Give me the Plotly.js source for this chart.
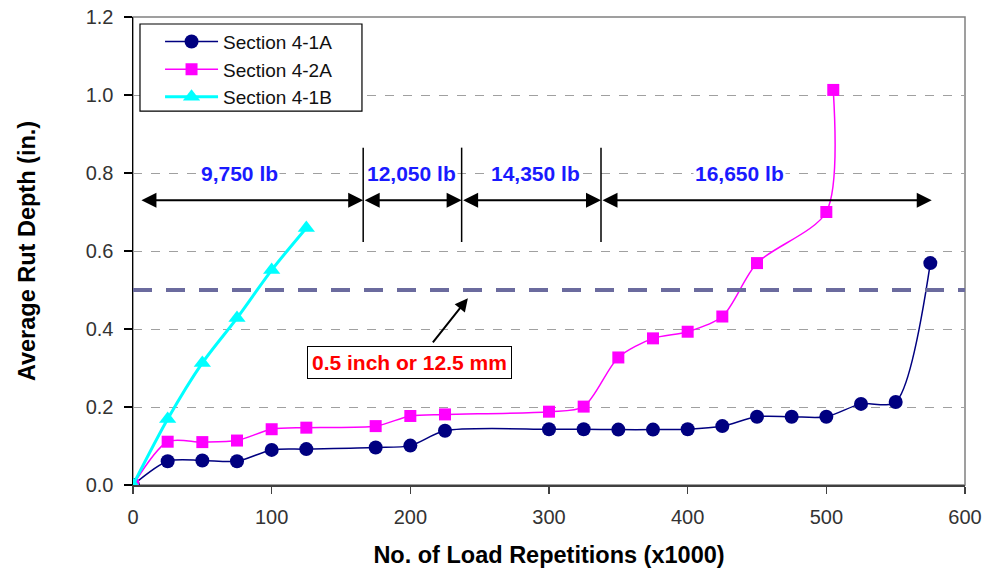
<!DOCTYPE html>
<html>
<head>
<meta charset="utf-8">
<script src="https://cdn.plot.ly/plotly-3.0.1.min.js"></script>
<style>
  html, body { margin: 0; padding: 0; background: #fff; }
  #chart { width: 988px; height: 571px; }
</style>
</head>
<body>
<div id="chart"></div>
<script>
// Load repetitions (x1000) and average rut depth (in.) for each test section
const reps41A = [0, 25, 50, 75, 100, 125, 175, 200, 225, 300, 325, 350, 375, 400, 425, 450, 475, 500, 525, 550, 575];
const rut41A  = [0, 0.061, 0.063, 0.061, 0.090, 0.092, 0.096, 0.101, 0.139, 0.143, 0.143, 0.142, 0.142, 0.143, 0.151, 0.175, 0.175, 0.175, 0.208, 0.213, 0.569];

const reps42A = [0, 25, 50, 75, 100, 125, 175, 200, 225, 300, 325, 350, 375, 400, 425, 450, 500, 505];
const rut42A  = [0, 0.111, 0.110, 0.114, 0.143, 0.147, 0.151, 0.177, 0.181, 0.188, 0.201, 0.327, 0.376, 0.393, 0.432, 0.569, 0.700, 1.013];

const reps41B = [0, 25, 50, 75, 100, 125];
const rut41B  = [0, 0.169, 0.313, 0.428, 0.551, 0.659];

const seriesNames = ['Section 4-1A', 'Section 4-2A', 'Section 4-1B'];

// Wheel-load stages: boundaries along the repetition axis and their labels
const stageBounds = [5, 166, 237, 337.5, 576];
const stageLabels = ['9,750 lb', '12,050 lb', '14,350 lb', '16,650 lb'];
const stageLabelX = [77, 201, 290, 437.5];
const stageArrowY = 0.73;
const stageLabelY = 0.8;

// Failure criterion
const rutLimit = 0.5;
const rutLimitText = '0.5 inch or 12.5 mm';

const xTicks = [0, 100, 200, 300, 400, 500, 600];
const yTicks = [0, 0.2, 0.4, 0.6, 0.8, 1.0, 1.2];

const FONT = 'Arial, "Liberation Sans", sans-serif';

const traces = [
  {
    x: reps41A, y: rut41A, name: seriesNames[0], type: 'scatter', mode: 'lines+markers',
    line: { color: '#000080', width: 1.5, shape: 'spline', smoothing: 0.8 },
    marker: { symbol: 'circle', size: 14, color: '#000080' }
  },
  {
    x: reps42A, y: rut42A, name: seriesNames[1], type: 'scatter', mode: 'lines+markers',
    line: { color: '#FF00FF', width: 1.5, shape: 'spline', smoothing: 0.8 },
    marker: { symbol: 'square', size: 12, color: '#FF00FF' }
  },
  {
    x: reps41B, y: rut41B, name: seriesNames[2], type: 'scatter', mode: 'lines+markers',
    line: { color: '#00FFFF', width: 3, shape: 'spline', smoothing: 0.8 },
    marker: { symbol: 'triangle-up', size: 15, color: '#00FFFF' }
  }
];

const shapes = [];
const annotations = [];

// frame around the plotting area
shapes.push({ type: 'rect', xref: 'paper', yref: 'paper', x0: 0, x1: 1, y0: 0, y1: 1,
  line: { color: '#808080', width: 1.5 }, layer: 'below' });

// legend panel (the legend itself is drawn borderless on top of it)
shapes.push({ type: 'rect', xref: 'paper', yref: 'paper', x0: 0.0084, x1: 0.2752, y0: 0.799, y1: 0.985,
  line: { color: '#000', width: 1.2 }, fillcolor: '#fff', layer: 'above' });

// rut-depth limit
shapes.push({ type: 'line', xref: 'x', yref: 'y', x0: xTicks[0], x1: xTicks[xTicks.length - 1],
  y0: rutLimit, y1: rutLimit, line: { color: '#6B6B9E', width: 4, dash: '19px,14px' }, layer: 'above' });

// stage separators and double-headed span arrows
for (let i = 1; i < stageBounds.length - 1; i++) {
  shapes.push({ type: 'line', xref: 'x', yref: 'y', x0: stageBounds[i], x1: stageBounds[i],
    y0: 0.623, y1: 0.865, line: { color: '#000', width: 1.5 }, layer: 'above' });
}
for (let i = 0; i < stageLabels.length; i++) {
  annotations.push({
    x: stageBounds[i + 1], y: stageArrowY, ax: stageBounds[i], ay: stageArrowY,
    xref: 'x', yref: 'y', axref: 'x', ayref: 'y', text: '', showarrow: true,
    arrowside: 'end+start', arrowhead: 2, startarrowhead: 2, arrowsize: 1.5, startarrowsize: 1.5,
    arrowwidth: 2, arrowcolor: '#000', standoff: 0, startstandoff: 0
  });
  annotations.push({
    x: stageLabelX[i], y: stageLabelY, xref: 'x', yref: 'y', text: '<b>' + stageLabels[i] + '</b>',
    showarrow: false, bgcolor: '#fff', borderpad: 1,
    font: { family: FONT, size: 21, color: '#1A1AFF' }
  });
}

// limit callout
annotations.push({
  x: 241.5, y: 0.479, ax: 215.4, ay: 0.362, xref: 'x', yref: 'y', axref: 'x', ayref: 'y',
  text: '', showarrow: true, arrowhead: 2, arrowsize: 1.3, arrowwidth: 2, arrowcolor: '#000',
  standoff: 0, startstandoff: 0
});
annotations.push({
  x: 199.5, y: 0.313, xref: 'x', yref: 'y', text: '<b>' + rutLimitText + '</b>', showarrow: false,
  bgcolor: '#fff', bordercolor: '#000', borderwidth: 1, borderpad: 4,
  font: { family: FONT, size: 21, color: '#FF0000' }
});

const layout = {
  width: 988, height: 571,
  margin: { l: 133, r: 23, t: 17, b: 86 },
  paper_bgcolor: '#fff', plot_bgcolor: '#fff',
  font: { family: FONT, color: '#000' },
  showlegend: true,
  legend: {
    x: 0.0325, y: 0.988, xanchor: 'left', yanchor: 'top',
    bgcolor: 'rgba(0,0,0,0)', borderwidth: 0,
    font: { family: FONT, size: 19, color: '#111' }, itemwidth: 53
  },
  xaxis: {
    range: [0, 600], tickvals: xTicks, ticktext: xTicks.map(String),
    showgrid: false, zeroline: false, showline: true, linecolor: '#404040', linewidth: 1.5,
    ticks: 'outside', ticklen: 7, tickcolor: '#404040', tickwidth: 1.5, ticklabelstandoff: 6,
    tickfont: { family: FONT, size: 20, color: '#333' },
    title: { text: '<b>No. of Load Repetitions (x1000)</b>', font: { family: FONT, size: 23.5, color: '#000' }, standoff: 20 }
  },
  yaxis: {
    range: [0, 1.2], tickvals: yTicks, ticktext: yTicks.map(v => v.toFixed(1)),
    showgrid: true, gridcolor: '#A0A0A0', griddash: 'dash', gridwidth: 1,
    zeroline: false, showline: true, linecolor: '#000', linewidth: 1.5,
    ticks: 'outside', ticklen: 8, tickcolor: '#000', tickwidth: 1.5, ticklabelstandoff: 6,
    tickfont: { family: FONT, size: 20, color: '#333' },
    title: { text: '<b>Average Rut Depth (in.)</b>', font: { family: FONT, size: 23.5, color: '#000' }, standoff: 43 }
  },
  shapes: shapes,
  annotations: annotations
};

Plotly.newPlot('chart', traces, layout, { displayModeBar: false, staticPlot: true });
</script>
</body>
</html>
